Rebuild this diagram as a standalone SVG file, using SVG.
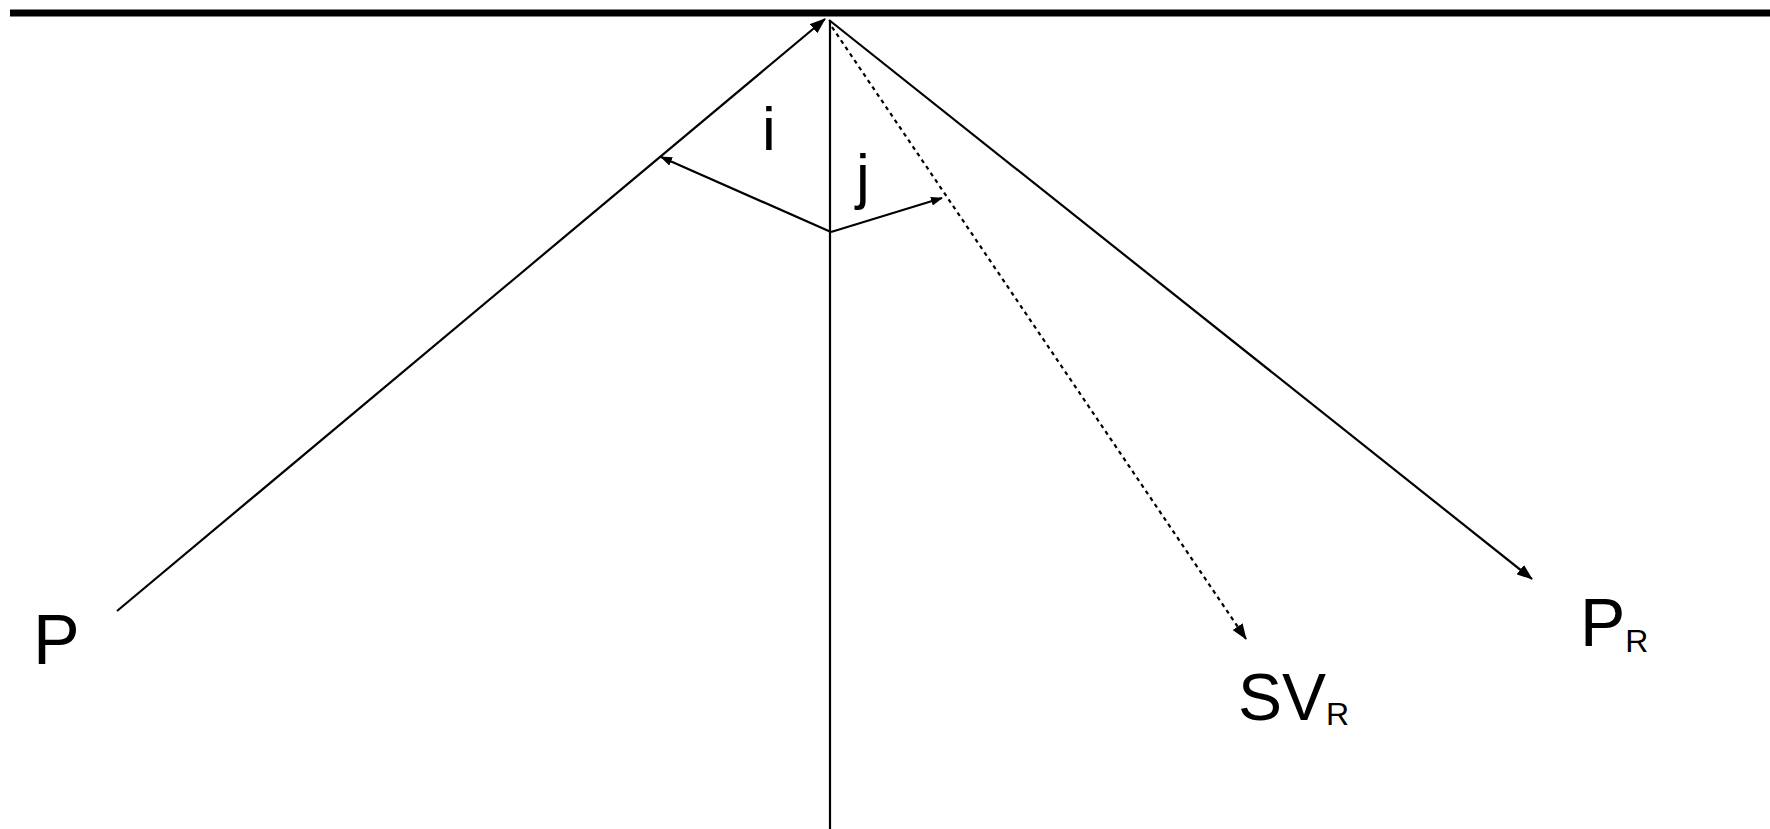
<svg xmlns="http://www.w3.org/2000/svg" width="1770" height="829" viewBox="0 0 1770 829">
  <style>
    .ln { stroke: #000; stroke-width: 2.2; fill: none; }
    .dot { stroke: #000; stroke-width: 2.2; fill: none; stroke-dasharray: 4 4; }
    .lbl { font-family: "Comic Sans MS", "Liberation Sans", "DejaVu Sans", sans-serif; fill: #000; }
  </style>
  <defs>
    <marker id="ah" markerWidth="16" markerHeight="12" refX="15" refY="6" orient="auto" markerUnits="userSpaceOnUse">
      <path d="M0,0 L16,6 L0,12 Z" fill="#000"/>
    </marker>
    <marker id="ahs" markerWidth="12" markerHeight="9" refX="11" refY="4.5" orient="auto" markerUnits="userSpaceOnUse">
      <path d="M0,0 L12,4.5 L0,9 Z" fill="#000"/>
    </marker>
  </defs>
  <g id="surface">
    <line x1="10" y1="13" x2="1770" y2="13" stroke="#000" stroke-width="7"/>
  </g>
  <g id="connectors">
    <line id="incident" class="ln" x1="117" y1="611" x2="825" y2="19" marker-end="url(#ah)"/>
    <line id="normal" class="ln" x1="830" y1="20" x2="830" y2="829"/>
    <line id="reflected" class="ln" x1="829" y1="20" x2="1532" y2="579" marker-end="url(#ah)"/>
    <line id="sv" class="dot" x1="832" y1="27" x2="1246" y2="639" marker-end="url(#ah)"/>
    <line id="ang-i" class="ln" x1="831" y1="232" x2="661" y2="157" marker-end="url(#ahs)"/>
    <line id="ang-j" class="ln" x1="831" y1="232" x2="942" y2="198" marker-end="url(#ahs)"/>
  </g>
  <g id="label-P"><text class="lbl" x="33" y="664" font-size="70">P</text></g>
  <g id="label-i"><text class="lbl" x="762" y="150" font-size="62">i</text></g>
  <g id="label-j"><text class="lbl" x="856" y="197" font-size="62">j</text></g>
  <g id="label-SVR"><text class="lbl" x="1238" y="720" font-size="66">SV<tspan font-size="32" dy="5">R</tspan></text></g>
  <g id="label-PR"><text class="lbl" x="1580" y="646" font-size="68">P<tspan font-size="32" dy="6">R</tspan></text></g>
</svg>
